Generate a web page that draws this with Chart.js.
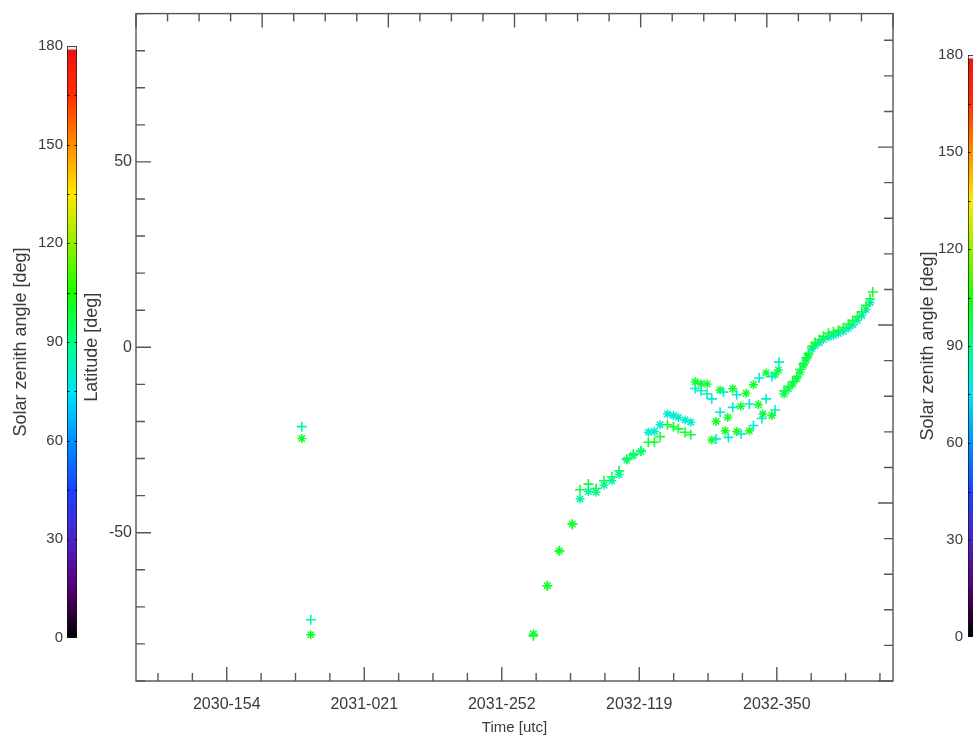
<!DOCTYPE html>
<html lang="en">
<head>
<meta charset="UTF-8">
<title>Latitude vs time, coloured by solar zenith angle</title>
<style>
    body { margin: 0; background: #fff; overflow: hidden; }
    #wrap { position: relative; width: 973px; height: 735px; }
    canvas { position: absolute; top: 0; }
    #latChart { left: 0; }
    #cbLeft { left: 0; }
    #cbRight { left: 915px; }
</style>
<script src="https://cdn.jsdelivr.net/npm/chart.js"></script>
</head>
<body>
<div id="wrap">
    <canvas id="latChart" width="973" height="735"></canvas>
    <canvas id="cbLeft" width="80" height="735"></canvas>
    <canvas id="cbRight" width="65" height="735"></canvas>
</div>
<script>
// time is in megaseconds since J2000
const xMajorTicks = [960, 980, 1000, 1020, 1040];
const xTickLabels = ['2030-154', '2031-021', '2031-252', '2032-119', '2032-350'];
const yLabelTicks = [-50, 0, 50];
const cbTicks = [0, 30, 60, 90, 120, 150, 180];
const cbMinorTicks = [15, 30, 45, 60, 75, 90, 105, 120, 135, 150, 165];

// '+' markers
const plusTime = [970.91, 972.22, 1004.60, 1006.63, 1008.38, 1010.27, 1011.39, 1012.60, 1013.72, 1014.88,
    1016.00, 1017.06, 1018.18, 1019.14, 1020.26, 1021.32, 1022.20, 1023.03, 1024.09, 1024.96,
    1025.69, 1026.66, 1027.49, 1028.12, 1028.99, 1029.86, 1030.55, 1031.17, 1031.75, 1032.23,
    1032.96, 1033.60, 1034.18, 1034.81, 1036.01, 1036.60, 1037.43, 1037.82, 1038.45, 1039.27,
    1039.75, 1040.33, 1041.06, 1041.69, 1042.33, 1042.91, 1043.39, 1043.87, 1044.26, 1044.60,
    1045.09, 1045.57, 1046.20, 1046.78, 1047.51, 1048.23, 1048.96, 1049.69, 1050.41, 1051.05,
    1051.72, 1052.36, 1052.99, 1053.57, 1053.96];
const plusLat = [-21.4, -73.5, -77.8, -64.3, -54.9, -47.7, -38.4, -36.9, -38.1, -36.0,
    -34.9, -33.3, -30.1, -28.8, -27.9, -25.6, -25.6, -24.1, -20.9, -21.4,
    -22.0, -22.9, -23.6, -11.1, -11.7, -12.6, -13.9, -24.7, -17.5, -12.1,
    -24.3, -16.2, -12.8, -23.4, -15.3, -21.1, -8.3, -19.2, -13.9, -7.9,
    -16.9, -4.0, -11.7, -10.6, -9.3, -7.9, -6.0, -4.4, -2.8, -1.7,
    0.2, 1.3, 2.1, 3.0, 3.8, 4.2, 4.6, 5.3, 6.3, 7.2,
    8.3, 9.6, 11.3, 13.1, 14.9];
const plusZen = [86, 86, 100, 100, 100, 100, 98, 98, 98, 96,
    96, 95, 96, 96, 95, 100, 100, 100, 100, 100,
    100, 100, 100, 82, 82, 82, 80, 80, 80, 80,
    80, 80, 80, 80, 80, 80, 80, 80, 80, 80,
    84, 84, 98, 98, 98, 98, 98, 98, 98, 98,
    100, 100, 100, 100, 100, 100, 100, 100, 100, 100,
    100, 100, 100, 100, 100];

// '*' markers
const starTime = [970.91, 972.22, 1004.60, 1006.63, 1008.38, 1010.27, 1011.39, 1012.60, 1013.72, 1014.88,
    1016.00, 1017.06, 1018.18, 1019.14, 1020.26, 1021.32, 1022.20, 1023.03, 1024.09, 1024.96,
    1025.69, 1026.66, 1027.49, 1028.12, 1028.99, 1029.86, 1030.55, 1031.17, 1031.75, 1032.48,
    1032.87, 1033.60, 1034.18, 1034.76, 1035.53, 1036.01, 1036.60, 1037.33, 1037.97, 1038.45,
    1039.27, 1039.75, 1040.23, 1041.06, 1041.69, 1042.33, 1042.91, 1043.39, 1043.87, 1044.26,
    1044.60, 1045.09, 1045.57, 1046.20, 1046.78, 1047.51, 1048.23, 1048.96, 1049.69, 1050.41,
    1051.05, 1051.72, 1052.36, 1052.99, 1053.57];
const starLat = [-24.6, -77.5, -77.3, -64.3, -54.9, -47.7, -40.9, -38.9, -39.1, -37.2,
    -36.0, -34.3, -30.4, -29.2, -28.1, -22.9, -22.7, -20.9, -18.0, -18.4,
    -18.9, -19.6, -20.2, -9.3, -9.8, -9.9, -25.0, -20.0, -11.5, -22.5,
    -18.9, -11.2, -22.7, -15.9, -12.4, -22.5, -10.1, -15.5, -18.0, -6.9,
    -18.4, -7.4, -6.1, -12.6, -11.2, -9.9, -8.5, -6.7, -4.9, -3.4,
    -2.2, -0.4, 0.5, 1.3, 2.1, 2.8, 3.2, 3.7, 4.3, 5.2,
    6.1, 7.3, 8.6, 10.2, 12.1];
const starZen = [100, 100, 100, 100, 100, 100, 86, 86, 88, 86,
    84, 84, 90, 90, 90, 80, 80, 80, 80, 80,
    80, 80, 80, 100, 100, 100, 102, 100, 100, 102,
    100, 100, 102, 100, 100, 102, 100, 100, 100, 100,
    100, 96, 96, 96, 96, 96, 96, 96, 96, 96,
    96, 80, 80, 80, 80, 80, 80, 80, 80, 80,
    80, 80, 80, 80, 80];

const FONT = "'Liberation Sans', Arial, sans-serif";
const TXT = '#3a3a3a';
Chart.defaults.font.family = FONT;

// rainbow colour table (black -> purple -> blue -> cyan -> green -> yellow -> red)
const cmap = [
    [0, [0, 0, 0]], [15, [85, 0, 115]], [30, [75, 35, 200]], [45, [25, 65, 255]],
    [60, [0, 145, 255]], [75, [0, 228, 245]], [90, [0, 255, 135]], [105, [25, 255, 0]],
    [120, [150, 238, 0]], [135, [255, 232, 0]], [150, [255, 140, 0]], [165, [255, 45, 0]],
    [180, [238, 20, 20]]
];

function zenColor(v) {
    for (let i = 1; i < cmap.length; i++) {
        if (v <= cmap[i][0]) {
            const [v0, c0] = cmap[i - 1];
            const [v1, c1] = cmap[i];
            const f = (v - v0) / (v1 - v0);
            return 'rgb(' + c0.map((c, k) => Math.round(c + (c1[k] - c) * f)).join(',') + ')';
        }
    }
    return 'rgb(' + cmap[cmap.length - 1][1].join(',') + ')';
}

const isWhole = v => Math.abs(v - Math.round(v)) < 1e-6;

// box round the plot with inward ticks on all four sides
const frameTicks = {
    id: 'frameTicks',
    afterDraw(chart) {
        const { ctx, chartArea: a, scales } = chart;
        ctx.save();
        ctx.strokeStyle = '#555';
        ctx.lineWidth = 1.4;
        ctx.strokeRect(a.left, a.top, a.right - a.left, a.bottom - a.top);
        ctx.beginPath();
        scales.x.ticks.forEach(t => {
            const p = scales.x.getPixelForValue(t.value);
            const len = xMajorTicks.includes(Math.round(t.value)) && isWhole(t.value) ? 14 : 8;
            ctx.moveTo(p, a.bottom);
            ctx.lineTo(p, a.bottom - len);
        });
        scales.y.ticks.forEach(t => {
            const p = scales.y.getPixelForValue(t.value);
            const len = yLabelTicks.includes(t.value) ? 15 : 9;
            ctx.moveTo(a.left, p);
            ctx.lineTo(a.left + len, p);
        });
        scales.x2.ticks.forEach(t => {
            const p = scales.x2.getPixelForValue(t.value);
            const len = isWhole(t.value) ? 14 : 8;
            ctx.moveTo(p, a.top);
            ctx.lineTo(p, a.top + len);
        });
        scales.y2.ticks.forEach(t => {
            const p = scales.y2.getPixelForValue(t.value);
            const len = isWhole(t.value) ? 15 : 9;
            ctx.moveTo(a.right, p);
            ctx.lineTo(a.right - len, p);
        });
        ctx.stroke();
        ctx.restore();
    }
};

new Chart(document.getElementById('latChart'), {
    type: 'scatter',
    data: {
        datasets: [{
            label: 'plus',
            data: plusTime.map((t, i) => ({ x: t, y: plusLat[i] })),
            pointStyle: 'cross',
            pointRadius: 5,
            pointBorderWidth: 1.6,
            pointBorderColor: plusZen.map(zenColor),
            pointBackgroundColor: plusZen.map(zenColor)
        }, {
            label: 'star',
            data: starTime.map((t, i) => ({ x: t, y: starLat[i] })),
            pointStyle: 'star',
            pointRadius: 4.5,
            pointBorderWidth: 1.5,
            pointBorderColor: starZen.map(zenColor),
            pointBackgroundColor: starZen.map(zenColor)
        }]
    },
    options: {
        responsive: false,
        devicePixelRatio: 1,
        animation: false,
        events: [],
        layout: { padding: { left: 80, right: 80, top: 12, bottom: 0 } },
        plugins: { legend: { display: false }, tooltip: { enabled: false } },
        scales: {
            x: {
                type: 'linear',
                position: 'bottom',
                min: 946.8,
                max: 1056.9,
                afterFit: s => { s.height = 54; },
                grid: { display: false, drawTicks: false },
                border: { display: false },
                ticks: {
                    stepSize: 5,
                    autoSkip: false,
                    includeBounds: false,
                    maxRotation: 0,
                    padding: 14,
                    color: TXT,
                    font: { size: 16 },
                    callback: v => {
                        const i = xMajorTicks.indexOf(Math.round(v));
                        return i >= 0 && isWhole(v) ? xTickLabels[i] : '';
                    }
                },
                title: {
                    display: true,
                    text: 'Time [utc]',
                    color: TXT,
                    font: { size: 15, lineHeight: 1 },
                    padding: { top: 0, bottom: 0 }
                }
            },
            y: {
                type: 'linear',
                position: 'left',
                min: -90,
                max: 90,
                afterFit: s => { s.width = 56; },
                grid: { display: false, drawTicks: false },
                border: { display: false },
                ticks: {
                    stepSize: 10,
                    autoSkip: false,
                    padding: 4,
                    color: TXT,
                    font: { size: 16 },
                    callback: v => yLabelTicks.includes(v) ? String(v) : ''
                },
                title: {
                    display: true,
                    text: 'Latitude [deg]',
                    color: TXT,
                    font: { size: 18, lineHeight: 1 },
                    padding: { top: 3, bottom: 0 }
                }
            },
            x2: {
                type: 'linear',
                position: 'top',
                min: 0,
                max: 6,
                afterFit: s => { s.height = 0; },
                grid: { display: false, drawTicks: false },
                border: { display: false },
                ticks: { display: false, stepSize: 0.25, autoSkip: false, includeBounds: false }
            },
            y2: {
                type: 'linear',
                position: 'right',
                min: 0,
                max: 3.75,
                afterFit: s => { s.width = 0; },
                grid: { display: false, drawTicks: false },
                border: { display: false },
                ticks: { display: false, stepSize: 0.2, autoSkip: false, includeBounds: false }
            }
        }
    },
    plugins: [frameTicks]
});

// colour bars: one floating bar 0..180 filled with the colour table
function barGradient(context) {
    const chart = context.chart;
    const y = chart.scales.y;
    if (!y || !chart.chartArea) return '#888';
    const g = chart.ctx.createLinearGradient(0, y.getPixelForValue(0), 0, y.getPixelForValue(180));
    cmap.forEach(([v, c]) => g.addColorStop(v === 180 ? 0.993 : v / 180, 'rgb(' + c.join(',') + ')'));
    g.addColorStop(0.995, '#eeeeee');
    g.addColorStop(1, '#eeeeee');
    return g;
}

const cbDashes = {
    id: 'cbDashes',
    afterDatasetsDraw(chart) {
        const { ctx, chartArea: a, scales: { y } } = chart;
        ctx.save();
        ctx.strokeStyle = '#111';
        ctx.lineWidth = 1;
        ctx.beginPath();
        cbMinorTicks.forEach(v => {
            const p = Math.round(y.getPixelForValue(v)) + 0.5;
            ctx.moveTo(a.left, p);
            ctx.lineTo(a.left + 2.5, p);
            ctx.moveTo(a.right - 2.5, p);
            ctx.lineTo(a.right, p);
        });
        ctx.stroke();
        ctx.restore();
    }
};

function colorbar(id, pad, axisWidth, tickPad, titlePad) {
    return new Chart(document.getElementById(id), {
        type: 'bar',
        data: {
            labels: ['zenith'],
            datasets: [{
                data: [[0, 180]],
                backgroundColor: barGradient,
                borderColor: '#111',
                borderWidth: 1,
                borderSkipped: false,
                barPercentage: 1,
                categoryPercentage: 1
            }]
        },
        options: {
            responsive: false,
            devicePixelRatio: 1,
            animation: false,
            events: [],
            layout: { padding: pad },
            plugins: { legend: { display: false }, tooltip: { enabled: false } },
            scales: {
                x: { display: false },
                y: {
                    min: 0,
                    max: 180,
                    afterFit: s => { s.width = axisWidth; },
                    grid: { display: false, drawTicks: false },
                    border: { display: false },
                    afterBuildTicks: s => { s.ticks = cbTicks.map(v => ({ value: v })); },
                    ticks: { padding: tickPad, color: TXT, font: { size: 15 }, autoSkip: false },
                    title: {
                        display: true,
                        text: 'Solar zenith angle [deg]',
                        color: TXT,
                        font: { size: 18, lineHeight: 1 },
                        padding: { top: titlePad, bottom: 0 }
                    }
                }
            }
        },
        plugins: [cbDashes]
    });
}

colorbar('cbLeft', { left: 0, right: 3, top: 46, bottom: 97 }, 67, 4, 12);
colorbar('cbRight', { left: 0, right: 2, top: 55, bottom: 98 }, 53, 5, 4);
</script>
</body>
</html>
